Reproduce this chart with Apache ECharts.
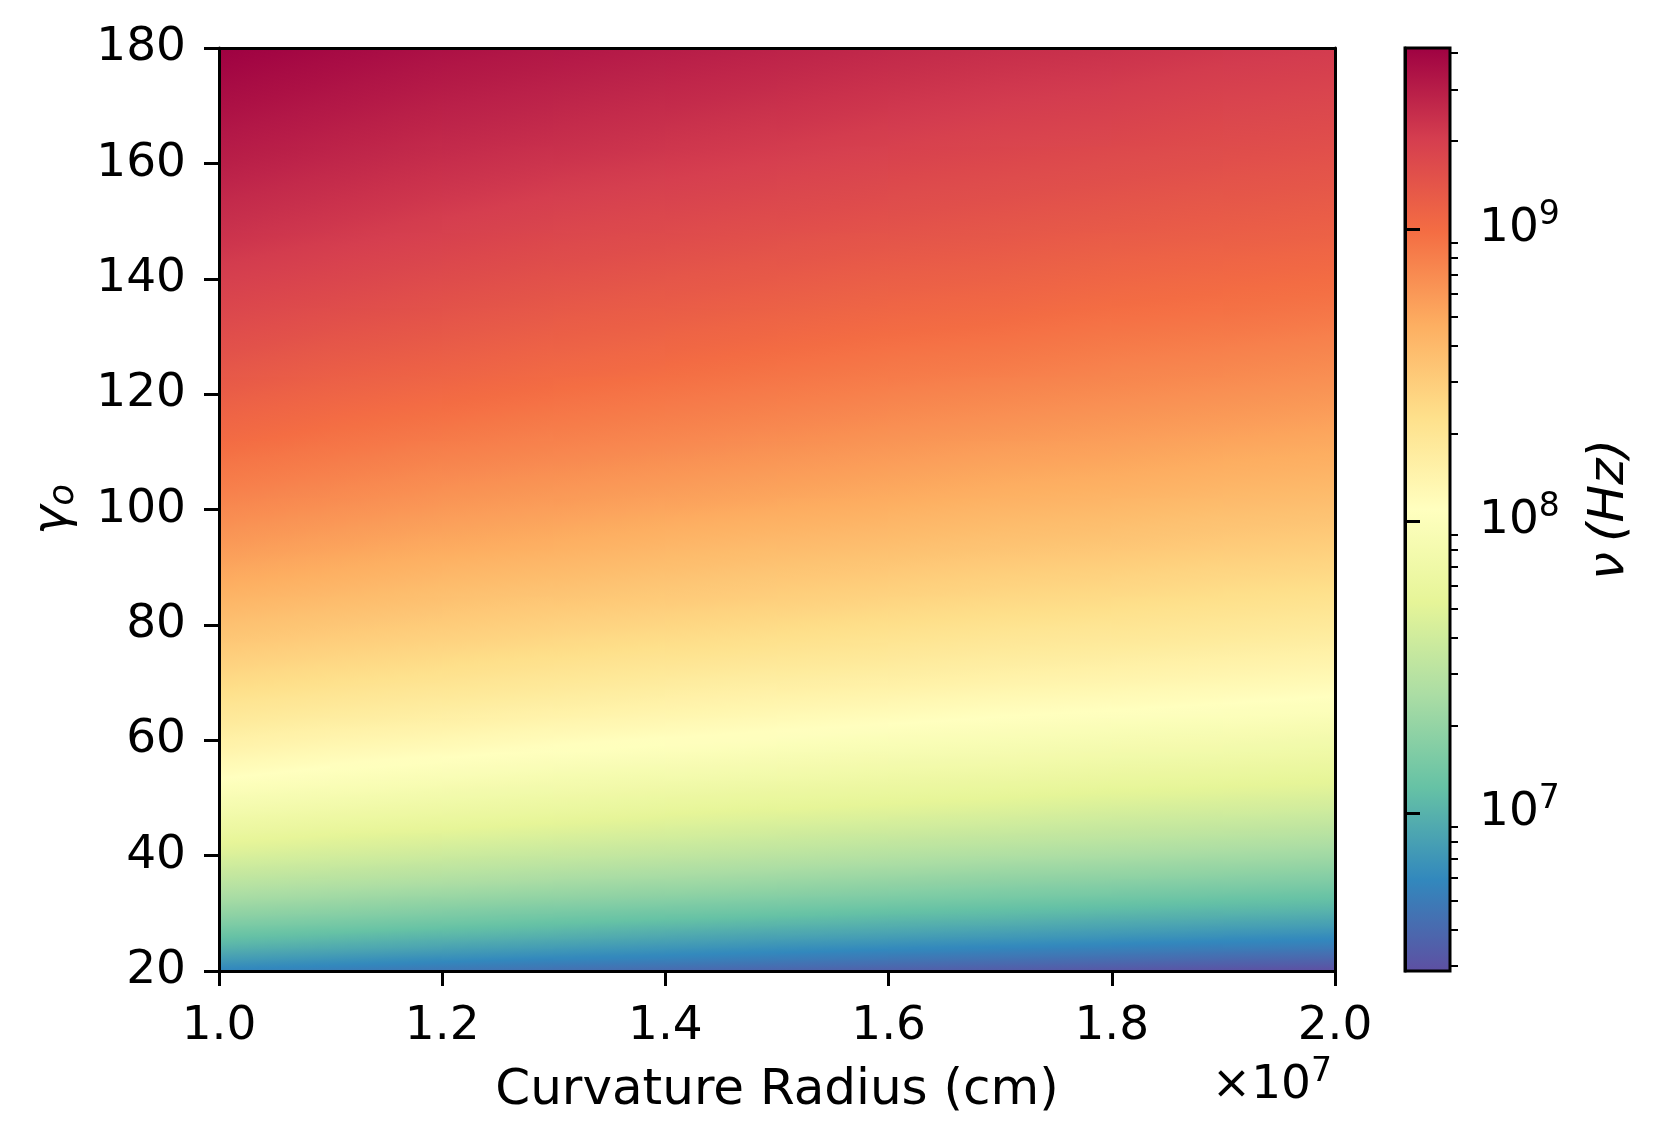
<!DOCTYPE html>
<html>
<head>
<meta charset="utf-8">
<script src="https://cdn.jsdelivr.net/npm/echarts@6/dist/echarts.min.js"></script>
<style>
  html, body { margin: 0; padding: 0; background: #ffffff; }
  #chart { width: 1661px; height: 1144px; }
</style>
</head>
<body>
<div id="chart"></div>
<script>
// ---- data ----
// Curvature radius grid nodes (units of 1e7 cm)
const radiusNodes = [1.0, 1.1, 1.2, 1.3, 1.4, 1.5, 1.6, 1.7, 1.8, 1.9, 2.0];
// Lorentz factor grid nodes
const gammaNodes = [20, 22, 24, 26, 28, 30, 33, 36, 40, 44, 48, 53, 58, 64, 70, 77, 85, 93, 102, 112, 123, 135, 148, 163, 180];
// log10(nu / Hz) at each node: one row per gamma node (bottom to top), one column per radius node (left to right)
const logNu = [
  [6.76, 6.72, 6.68, 6.64, 6.61, 6.58, 6.55, 6.53, 6.50, 6.48, 6.46],
  [6.88, 6.84, 6.80, 6.77, 6.74, 6.71, 6.68, 6.65, 6.63, 6.60, 6.58],
  [7.00, 6.96, 6.92, 6.88, 6.85, 6.82, 6.79, 6.77, 6.74, 6.72, 6.70],
  [7.10, 7.06, 7.02, 6.99, 6.95, 6.92, 6.90, 6.87, 6.85, 6.82, 6.80],
  [7.20, 7.16, 7.12, 7.08, 7.05, 7.02, 6.99, 6.97, 6.94, 6.92, 6.90],
  [7.29, 7.25, 7.21, 7.17, 7.14, 7.11, 7.08, 7.06, 7.03, 7.01, 6.99],
  [7.41, 7.37, 7.33, 7.30, 7.27, 7.24, 7.21, 7.18, 7.16, 7.13, 7.11],
  [7.52, 7.48, 7.45, 7.41, 7.38, 7.35, 7.32, 7.29, 7.27, 7.25, 7.22],
  [7.66, 7.62, 7.58, 7.55, 7.52, 7.49, 7.46, 7.43, 7.41, 7.38, 7.36],
  [7.79, 7.74, 7.71, 7.67, 7.64, 7.61, 7.58, 7.56, 7.53, 7.51, 7.48],
  [7.90, 7.86, 7.82, 7.79, 7.75, 7.72, 7.70, 7.67, 7.64, 7.62, 7.60],
  [8.03, 7.99, 7.95, 7.91, 7.88, 7.85, 7.82, 7.80, 7.77, 7.75, 7.73],
  [8.15, 8.10, 8.07, 8.03, 8.00, 7.97, 7.94, 7.92, 7.89, 7.87, 7.84],
  [8.27, 8.23, 8.20, 8.16, 8.13, 8.10, 8.07, 8.04, 8.02, 8.00, 7.97],
  [8.39, 8.35, 8.31, 8.28, 8.24, 8.21, 8.19, 8.16, 8.14, 8.11, 8.09],
  [8.51, 8.47, 8.44, 8.40, 8.37, 8.34, 8.31, 8.28, 8.26, 8.24, 8.21],
  [8.64, 8.60, 8.56, 8.53, 8.50, 8.47, 8.44, 8.41, 8.39, 8.36, 8.34],
  [8.76, 8.72, 8.68, 8.65, 8.61, 8.58, 8.56, 8.53, 8.51, 8.48, 8.46],
  [8.88, 8.84, 8.80, 8.77, 8.74, 8.71, 8.68, 8.65, 8.63, 8.60, 8.58],
  [9.00, 8.96, 8.92, 8.89, 8.86, 8.83, 8.80, 8.77, 8.75, 8.72, 8.70],
  [9.13, 9.08, 9.05, 9.01, 8.98, 8.95, 8.92, 8.90, 8.87, 8.85, 8.82],
  [9.25, 9.21, 9.17, 9.13, 9.10, 9.07, 9.04, 9.02, 8.99, 8.97, 8.95],
  [9.37, 9.33, 9.29, 9.25, 9.22, 9.19, 9.16, 9.14, 9.11, 9.09, 9.07],
  [9.49, 9.45, 9.41, 9.38, 9.35, 9.32, 9.29, 9.26, 9.24, 9.21, 9.19],
  [9.62, 9.58, 9.54, 9.51, 9.48, 9.45, 9.42, 9.39, 9.37, 9.34, 9.32]
];
// colour-scale limits (log10 Hz) and colorbar ticks
const colorMin = 6.46;
const colorMax = 9.62;
const colorbarMajorExponents = [7, 8, 9];
const colorbarMinorMantissas = [2, 3, 4, 5, 6, 7, 8, 9];
const xTickLabelDigits = 1;
const xOffsetExponent = 7;

// Spectral_r colormap
const spectralR = ['#5e4fa2', '#3288bd', '#66c2a5', '#abdda4', '#e6f598', '#ffffbf',
                   '#fee08b', '#fdae61', '#f46d43', '#d53e4f', '#9e0142'];

// ---- build library data ----
const cells = [];
for (let i = 0; i < gammaNodes.length - 1; i++) {
  for (let j = 0; j < radiusNodes.length - 1; j++) {
    cells.push([radiusNodes[j], radiusNodes[j + 1], gammaNodes[i], gammaNodes[i + 1],
                logNu[i][j], logNu[i][j + 1], logNu[i + 1][j], logNu[i + 1][j + 1]]);
  }
}
const minorTickValues = [];
for (let d = 6; d <= 9; d++) {
  colorbarMinorMantissas.forEach(m => {
    const v = d + Math.log10(m);
    if (v >= colorMin && v <= colorMax) minorTickValues.push(v);
  });
}

function fallbackLerp(t, colors) {
  const pos = t * (colors.length - 1);
  const a = Math.max(0, Math.min(colors.length - 2, Math.floor(pos)));
  const f = pos - a;
  const p = c => [parseInt(c.slice(1, 3), 16), parseInt(c.slice(3, 5), 16), parseInt(c.slice(5, 7), 16)];
  const ca = p(colors[a]), cb = p(colors[a + 1]);
  return 'rgb(' + ca.map((v, k) => Math.round(v + (cb[k] - v) * f)).join(',') + ')';
}
function colorOf(v) {
  const t = Math.max(0, Math.min(1, (v - colorMin) / (colorMax - colorMin)));
  if (echarts.color && echarts.color.lerp) return echarts.color.lerp(t, spectralR);
  return fallbackLerp(t, spectralR);
}

const FONT = 'DejaVu Sans';
const FS = 47;       // tick labels
const FL = 50;       // axis labels
const SUP = 33;      // superscripts

function renderCell(params, api) {
  const pa = api.coord([api.value(0), api.value(2)]);
  const pb = api.coord([api.value(1), api.value(3)]);
  const f00 = api.value(4), f10 = api.value(5), f01 = api.value(6), f11 = api.value(7);
  const x0 = pa[0], x1 = pb[0], yb = pa[1], yt = pb[1];
  const W = x1 - x0, H = yb - yt;
  const fx = ((f10 - f00) + (f11 - f01)) / 2;
  const fy = ((f01 - f00) + (f11 - f10)) / 2;
  const gx = fx / W, gy = -fy / H;
  const cx = (x0 + x1) / 2, cy = (yb + yt) / 2;
  const fc = (f00 + f10 + f01 + f11) / 4;
  const s = Math.abs(fx) / 2 + Math.abs(fy) / 2;
  const g2 = gx * gx + gy * gy;
  let fill;
  if (g2 < 1e-14) {
    fill = colorOf(fc);
  } else {
    const k = s / g2;
    const stops = [];
    for (let n = 0; n <= 6; n++) {
      const t = n / 6;
      stops.push({ offset: t, color: colorOf(fc - s + 2 * s * t) });
    }
    fill = new echarts.graphic.LinearGradient(cx - k * gx, cy - k * gy, cx + k * gx, cy + k * gy, stops, true);
  }
  return {
    type: 'rect',
    shape: { x: x0 - 0.6, y: yt - 0.6, width: W + 1.2, height: H + 1.2 },
    style: { fill: fill }
  };
}

function renderColorbar(params, api) {
  const p0 = api.coord([api.value(0), api.value(2)]);
  const p1 = api.coord([api.value(1), api.value(3)]);
  const stops = spectralR.map((c, k) => ({ offset: k / (spectralR.length - 1), color: c }));
  return {
    type: 'rect',
    shape: { x: p0[0], y: p1[1], width: p1[0] - p0[0], height: p0[1] - p1[1] },
    style: {
      fill: new echarts.graphic.LinearGradient(0, 1, 0, 0, stops),
      stroke: '#000', lineWidth: 3
    }
  };
}

const lineOnly = {
  axisLine: { show: true, onZero: false, lineStyle: { color: '#000', width: 3 } },
  axisTick: { show: false }, axisLabel: { show: false }, splitLine: { show: false }
};

const chart = echarts.init(document.getElementById('chart'), null, { renderer: 'canvas' });
chart.setOption({
  animation: false,
  backgroundColor: '#ffffff',
  textStyle: { fontFamily: FONT },
  grid: [
    { left: 219, top: 48, width: 1116, height: 923 },
    { left: 1405, top: 48, width: 45, height: 923 }
  ],
  xAxis: [
    {
      type: 'value', gridIndex: 0, position: 'bottom', min: 1.0, max: 2.0, interval: 0.2, z: 10,
      name: 'Curvature Radius (cm)', nameLocation: 'middle', nameGap: 95,
      nameTextStyle: { fontFamily: FONT, fontSize: FL, color: '#000' },
      axisLine: { show: true, onZero: false, lineStyle: { color: '#000', width: 3 } },
      axisTick: { show: true, inside: false, length: 15, lineStyle: { color: '#000', width: 3 } },
      axisLabel: { show: true, margin: 32, fontFamily: FONT, fontSize: FS, color: '#000',
                   formatter: v => v.toFixed(xTickLabelDigits) },
      splitLine: { show: false }
    },
    Object.assign({ type: 'value', gridIndex: 0, position: 'top', min: 1.0, max: 2.0, z: 10 }, lineOnly),
    { type: 'value', gridIndex: 1, min: 0, max: 1, show: false }
  ],
  yAxis: [
    {
      type: 'value', gridIndex: 0, position: 'left', min: 20, max: 180, interval: 20, z: 10,
      name: '{g|γ}{s|o}', nameLocation: 'middle', nameGap: 138, nameRotate: 90,
      nameTextStyle: {
        rich: {
          g: { fontFamily: FONT, fontStyle: 'italic', fontSize: FL, color: '#000' },
          s: { fontFamily: FONT, fontStyle: 'italic', fontSize: 35, color: '#000', padding: [18, 0, 0, 0] }
        }
      },
      axisLine: { show: true, onZero: false, lineStyle: { color: '#000', width: 3 } },
      axisTick: { show: true, inside: false, length: 15, lineStyle: { color: '#000', width: 3 } },
      axisLabel: { show: true, margin: 33, fontFamily: FONT, fontSize: FS, color: '#000' },
      splitLine: { show: false }
    },
    Object.assign({ type: 'value', gridIndex: 0, position: 'right', min: 20, max: 180, z: 10 }, lineOnly),
    {
      type: 'value', gridIndex: 1, position: 'right', min: colorMin, max: colorMax, z: 10,
      name: 'ν\u2009(Hz)', nameLocation: 'middle', nameGap: 135, nameRotate: 90,
      nameTextStyle: { fontFamily: FONT, fontStyle: 'italic', fontSize: FL, color: '#000' },
      axisLine: { show: true, lineStyle: { color: '#000', width: 3 } },
      axisTick: { show: true, inside: false, length: 15, customValues: colorbarMajorExponents,
                  lineStyle: { color: '#000', width: 3 } },
      axisLabel: {
        show: true, margin: 29, customValues: colorbarMajorExponents,
        formatter: v => '{b|10}{p|' + Math.round(v) + '}',
        rich: {
          b: { fontFamily: FONT, fontSize: FS, color: '#000' },
          p: { fontFamily: FONT, fontSize: SUP, color: '#000', padding: [0, 0, 28, 0] }
        }
      },
      splitLine: { show: false }
    },
    {
      type: 'value', gridIndex: 1, position: 'right', min: colorMin, max: colorMax, z: 10,
      axisLine: { show: false },
      axisTick: { show: true, inside: false, length: 8, customValues: minorTickValues,
                  lineStyle: { color: '#000', width: 2 } },
      axisLabel: { show: false },
      splitLine: { show: false }
    }
  ],
  series: [
    {
      type: 'custom', xAxisIndex: 0, yAxisIndex: 0, renderItem: renderCell, silent: true,
      dimensions: ['r0', 'r1', 'g0', 'g1', 'f00', 'f10', 'f01', 'f11'],
      encode: { x: [0, 1], y: [2, 3] },
      data: cells, z: 2
    },
    {
      type: 'custom', xAxisIndex: 2, yAxisIndex: 2, renderItem: renderColorbar, silent: true,
      encode: { x: [0, 1], y: [2, 3] },
      data: [[0, 1, colorMin, colorMax]], z: 2
    }
  ],
  graphic: [
    {
      type: 'text', x: 1332, y: 1086, z: 20,
      style: {
        text: '{a|×10}{p|' + xOffsetExponent + '}',
        align: 'right', verticalAlign: 'middle',
        rich: {
          a: { fontFamily: FONT, fontSize: FS, fill: '#000' },
          p: { fontFamily: FONT, fontSize: SUP, fill: '#000', padding: [0, 0, 28, 0] }
        }
      }
    }
  ]
});
</script>
</body>
</html>
